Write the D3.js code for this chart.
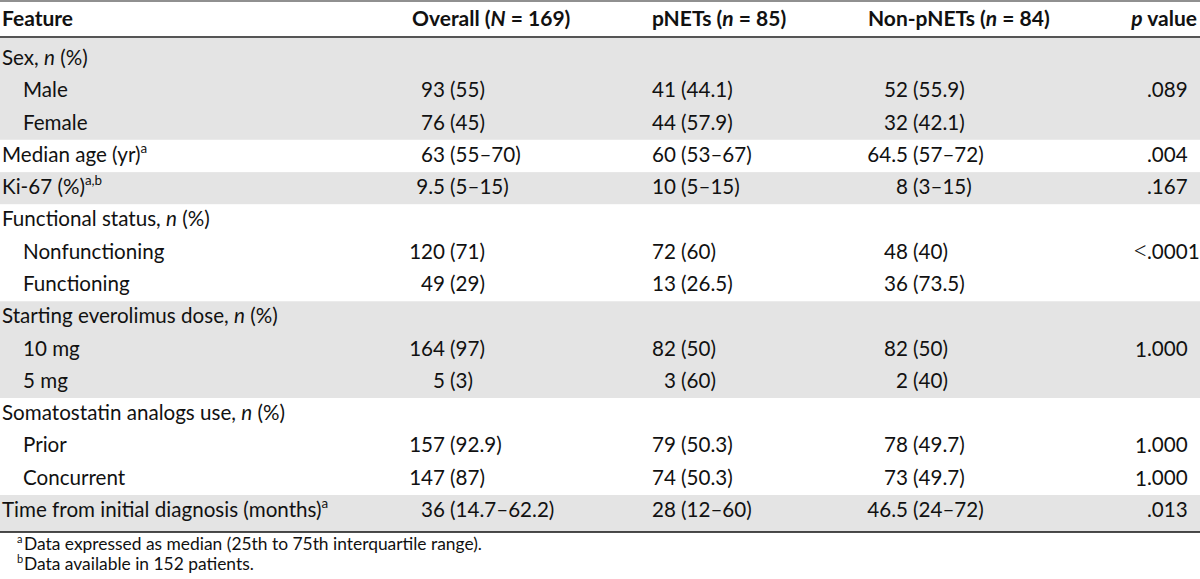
<!DOCTYPE html>
<html>
<head>
<meta charset="utf-8">
<script src="https://cdn.jsdelivr.net/npm/d3@7"></script>
<style>
  html, body { margin: 0; padding: 0; background: #fff; }
  svg { display: block; }
  text { font-family: Lato, "Open Sans", sans-serif; fill: #111; }
</style>
</head>
<body>
<div id="chart"></div>
<script>
// ---- data ----
const headers = ["Feature", "Overall (_N_ = 169)", "pNETs (_n_ = 85)", "Non-pNETs (_n_ = 84)", "_p_ value"];
const features = [
  "Sex, _n_ (%)", "Male", "Female", "Median age (yr)^a", "Ki-67 (%)^a,b",
  "Functional status, _n_ (%)", "Nonfunctioning", "Functioning",
  "Starting everolimus dose, _n_ (%)", "10 mg", "5 mg",
  "Somatostatin analogs use, _n_ (%)", "Prior", "Concurrent",
  "Time from initial diagnosis (months)^a"
];
const indented = [0, 1, 1, 0, 0, 0, 1, 1, 0, 1, 1, 0, 1, 1, 0];
const overall = ["", "93 (55)", "76 (45)", "63 (55–70)", "9.5 (5–15)", "", "120 (71)", "49 (29)", "", "164 (97)", "5 (3)", "", "157 (92.9)", "147 (87)", "36 (14.7–62.2)"];
const pnets = ["", "41 (44.1)", "44 (57.9)", "60 (53–67)", "10 (5–15)", "", "72 (60)", "13 (26.5)", "", "82 (50)", "3 (60)", "", "79 (50.3)", "74 (50.3)", "28 (12–60)"];
const nonPnets = ["", "52 (55.9)", "32 (42.1)", "64.5 (57–72)", "8 (3–15)", "", "48 (40)", "36 (73.5)", "", "82 (50)", "2 (40)", "", "78 (49.7)", "73 (49.7)", "46.5 (24–72)"];
const pValues = ["", ".089", "", ".004", ".167", "", "<.0001", "", "", "1.000", "", "", "1.000", "1.000", ".013"];
// groups of rows: [first, last]
const groups = [[0, 2], [3, 3], [4, 4], [5, 7], [8, 10], [11, 13], [14, 14]];
const footnotes = [["a", "Data expressed as median (25th to 75th interquartile range)."], ["b", "Data available in 152 patients."]];

// ---- layout ----
const W = 1200, H = 579;
const svg = d3.select("#chart").append("svg").attr("width", W).attr("height", H);
const FS = 20.6, HFS = 21;

const y = d3.scaleLinear().domain([0, features.length - 1]).range([65, 517]);
const valueCols = [overall, pnets, nonPnets];
const parenX = d3.scaleOrdinal().domain([0, 1, 2]).range([450, 681, 913]);
const headerX = d3.scaleOrdinal().domain([0, 1, 2, 3, 4]).range([2, 412, 652, 868, 1197]);
const dotX = 1147;
const headerTop = 37, tableBottom = 532;

function rich(sel, str, size) {
  const parts = str.split(/(_[^_]+_|\^.+$)/).filter(s => s.length);
  parts.forEach(p => {
    if (p.startsWith("_")) {
      sel.append("tspan").attr("font-style", "italic").text(p.slice(1, -1));
    } else if (p.startsWith("^")) {
      sel.append("tspan").attr("font-size", size * 0.65).attr("dy", -size * 0.42).text(p.slice(1));
    } else {
      sel.append("tspan").text(p);
    }
  });
}

// group backgrounds
const rowTop = i => y(i) - 22;
svg.append("g").selectAll("rect").data(groups).join("rect")
  .attr("x", 0).attr("width", W)
  .attr("y", (g, k) => k === 0 ? headerTop + 1 : rowTop(g[0]))
  .attr("height", (g, k) => {
    const top = k === 0 ? headerTop + 1 : rowTop(g[0]);
    const bot = k === groups.length - 1 ? tableBottom : rowTop(groups[k + 1][0]);
    return bot - top;
  })
  .attr("fill", (g, k) => k % 2 === 0 ? "#e4e4e4" : "#ffffff");

// rules
svg.append("line").attr("x1", 0).attr("x2", W).attr("y1", 1).attr("y2", 1).attr("stroke", "#222").attr("stroke-width", 1.2);
svg.append("line").attr("x1", 0).attr("x2", W).attr("y1", headerTop).attr("y2", headerTop).attr("stroke", "#555").attr("stroke-width", 2);
svg.append("line").attr("x1", 0).attr("x2", W).attr("y1", tableBottom).attr("y2", tableBottom).attr("stroke", "#111").attr("stroke-width", 1.4);

// headers
const hg = svg.append("g").attr("font-weight", "bold").attr("font-size", HFS);
headers.forEach((h, i) => {
  const t = hg.append("text").attr("x", headerX(i)).attr("y", 26)
    .attr("text-anchor", i === 4 ? "end" : "start");
  rich(t, h, HFS);
});

// feature labels
const fg = svg.append("g").attr("font-size", FS);
features.forEach((f, i) => {
  const t = fg.append("text").attr("x", indented[i] ? 23 : 2).attr("y", y(i));
  rich(t, f, FS);
});

// values, aligned on the opening parenthesis
const vg = svg.append("g").attr("font-size", FS);
valueCols.forEach((col, c) => {
  col.forEach((v, i) => {
    if (!v) return;
    const k = v.indexOf(" (");
    const num = v.slice(0, k), rest = v.slice(k + 1);
    vg.append("text").attr("x", parenX(c) - 5).attr("y", y(i)).attr("text-anchor", "end").text(num);
    vg.append("text").attr("x", parenX(c)).attr("y", y(i)).attr("text-anchor", "start").text(rest);
  });
});

// p values, aligned on the decimal point
pValues.forEach((v, i) => {
  if (!v) return;
  const k = v.indexOf(".");
  const head = v.slice(0, k), tail = v.slice(k);
  if (head) {
    const t = vg.append("text").attr("y", y(i) + 1).attr("text-anchor", "end");
    if (head === "<") t.attr("x", dotX + 1.5).attr("font-size", FS * 1.35).attr("font-weight", 300).text("<");
    else t.attr("x", dotX).text(head);
  }
  vg.append("text").attr("x", dotX).attr("y", y(i)).attr("text-anchor", "start").text(tail);
});

// footnotes
const ng = svg.append("g").attr("font-size", 17.4);
footnotes.forEach((fn, i) => {
  const yy = 550 + i * 20;
  ng.append("text").attr("x", 17).attr("y", yy - 7).attr("font-size", 11).text(fn[0]);
  ng.append("text").attr("x", 24).attr("y", yy).text(fn[1]);
});
</script>
</body>
</html>
